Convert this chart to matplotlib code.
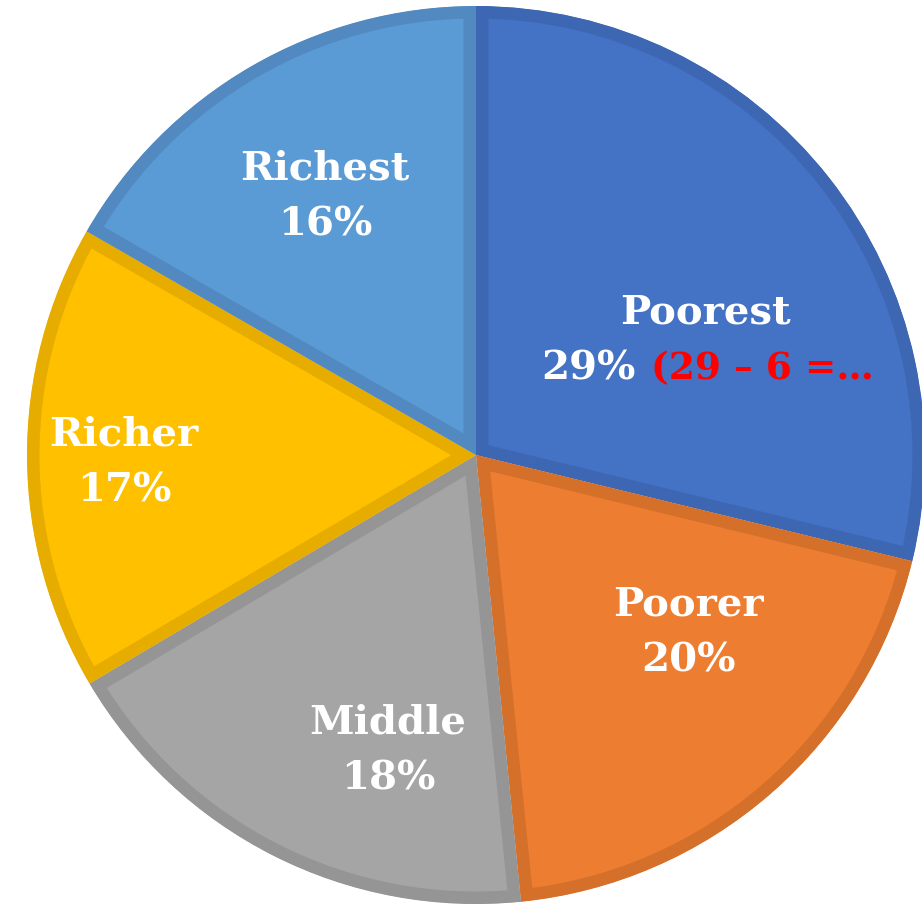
import matplotlib
matplotlib.use("Agg")
import matplotlib.pyplot as plt

categories = ["Poorest", "Poorer", "Middle", "Richer", "Richest"]
# slice sizes
shares = [28.8, 19.6, 18.1, 16.8, 16.7]
# percentages printed on the chart
pct_labels = ["29%", "20%", "18%", "17%", "16%"]
fill_colors = ["#4472C4", "#ED7D31", "#A5A5A5", "#FFC000", "#5B9BD5"]
edge_colors = ["#3D67B2", "#D5702B", "#959595", "#E6AC00", "#5189C0"]
annotation = "(29 – 6 =…"

W, H = 922, 905
fig = plt.figure(figsize=(W / 100, H / 100), dpi=100)
ax = fig.add_axes([0, 0, 1, 1])

cx, cy, R = 476, H - 455, 449
wedges, _ = ax.pie(shares, colors=fill_colors, startangle=90, counterclock=False,
                   center=(cx, cy), radius=R, frame=True)
for w, ec in zip(wedges, edge_colors):
    w.set_edgecolor(ec)
    w.set_linewidth(18)
    w.set_clip_path(w)
    w.set_clip_on(True)

ax.set_xlim(0, W)
ax.set_ylim(0, H)
ax.set_aspect("equal")
ax.axis("off")

font = dict(family="DejaVu Serif", fontweight="bold", fontsize=29, color="white")

label_pos = {
    "Poorest": (705, 313),
    "Poorer": (688, 605),
    "Middle": (388, 722),
    "Richer": (124, 434),
    "Richest": (325, 168),
}
gap = 56
for cat, pl in zip(categories, pct_labels):
    x, y = label_pos[cat]
    ax.text(x, H - y, cat, ha="center", va="center", **font)
    if cat == "Poorest":
        ax.text(636, H - (y + gap), pl, ha="right", va="center", **font)
        f2 = dict(font)
        f2["color"] = "#FF0000"
        f2["fontsize"] = 27
        ax.text(651, H - (y + gap), annotation, ha="left", va="center", **f2)
    else:
        ax.text(x, H - (y + gap), pl, ha="center", va="center", **font)

fig.savefig("out.png", dpi=100)
